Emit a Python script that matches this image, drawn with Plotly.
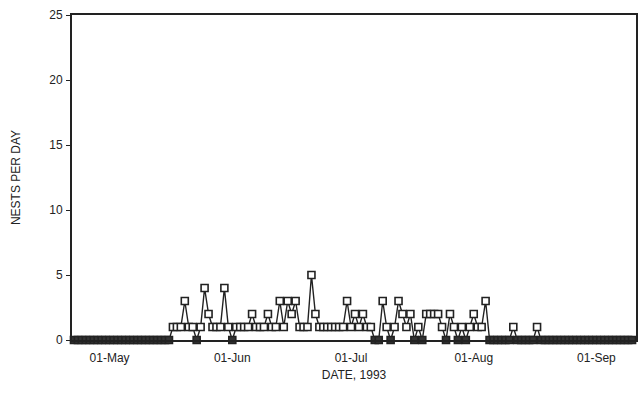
import datetime as dt
import plotly.graph_objects as go

start_date = "1993-04-22"
# daily nest counts
apr_vals = [0]*9  # Apr 22 - Apr 30
may_vals = [0]*16 + [1, 1, 1, 3, 1, 1, 0, 1, 4, 2, 1, 1, 1, 4, 1]
jun_vals = [0, 1, 1, 1, 1, 2, 1, 1, 1, 2, 1, 1, 3, 1, 3, 2, 3, 1, 1, 1,
            5, 2, 1, 1, 1, 1, 1, 1, 1, 3]
jul_vals = [1, 2, 1, 2, 1, 1, 0, 0, 3, 1, 0, 1, 3, 2, 1, 2, 0, 1, 0, 2,
            2, 2, 2, 1, 0, 2, 1, 0, 1, 0, 1]
aug_vals = [2, 1, 1, 3, 0, 0, 0, 0, 0, 0, 1, 0, 0, 0, 0, 0, 1, 0, 0, 0,
            0, 0, 0, 0, 0, 0, 0, 0, 0, 0, 0]
sep_vals = [0]*10

values = apr_vals + may_vals + jun_vals + jul_vals + aug_vals + sep_vals
d0 = dt.date.fromisoformat(start_date)
dates = [d0 + dt.timedelta(days=i) for i in range(len(values))]

tick_vals = ["1993-05-01", "1993-06-01", "1993-07-01", "1993-08-01", "1993-09-01"]
tick_text = ["01-May", "01-Jun", "01-Jul", "01-Aug", "01-Sep"]

fill_colors = ["#333" if v == 0 else "white" for v in values]

fig = go.Figure()
fig.add_trace(go.Scatter(
    x=dates, y=values, mode="lines+markers",
    line=dict(color="#222", width=1.4),
    marker=dict(symbol="square", size=7, color=fill_colors,
                line=dict(color="#222", width=1.6)),
    cliponaxis=False, showlegend=False))

fig.update_layout(
    width=643, height=414,
    margin=dict(l=72, r=5, t=15, b=74),
    paper_bgcolor="white", plot_bgcolor="white",
    font=dict(family="Liberation Sans, Arial, sans-serif", size=12, color="#222"),
    xaxis=dict(range=["1993-04-21 12:00", "1993-09-11"], tickvals=tick_vals,
               ticktext=tick_text, showgrid=False, zeroline=False,
               showline=True, linecolor="#222", linewidth=2, mirror=True,
               ticks="", ticklabelstandoff=6, layer="above traces",
               title=dict(text="DATE, 1993", font=dict(size=12), standoff=6)),
    yaxis=dict(range=[0, 25], tickvals=[0, 5, 10, 15, 20, 25], showgrid=False,
               zeroline=True, zerolinecolor="#222", zerolinewidth=4,
               showline=True, linecolor="#222", linewidth=2, layer="above traces",
               mirror=True, ticks="outside", ticklen=4, tickcolor="#222",
               ticklabelstandoff=1,
               title=dict(text="NESTS PER DAY", font=dict(size=12), standoff=26)),
)
fig.write_html("out.html")
